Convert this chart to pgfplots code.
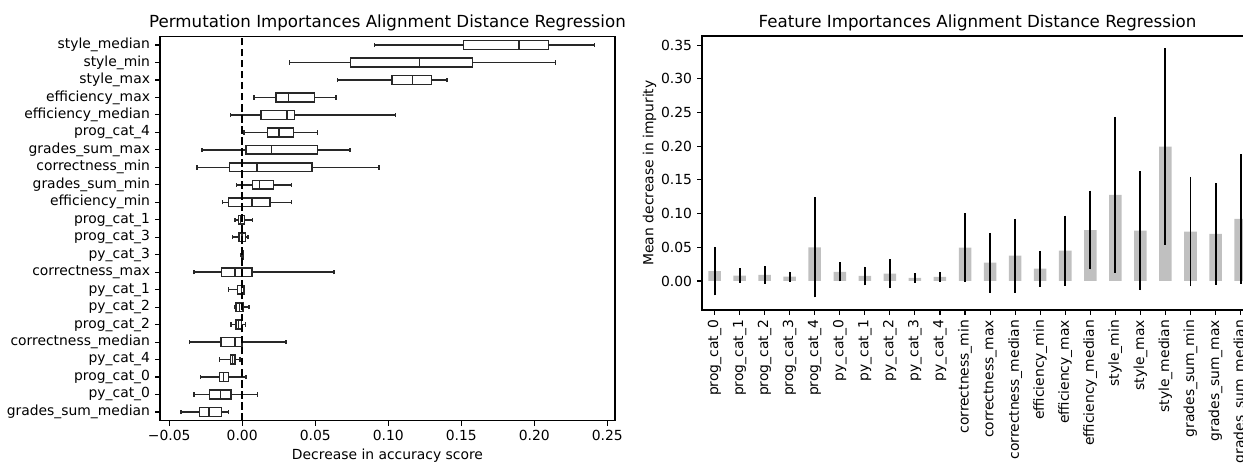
\documentclass[border=0pt]{standalone}
\usepackage{pgfplots}
\usepackage{pgfplotstable}
\pgfplotsset{compat=1.18}
\usepgfplotslibrary{statistics}
\usepackage{fontspec}
\setmainfont{DejaVu Sans}
\definecolor{barc}{RGB}{192,192,192}
\definecolor{boxc}{RGB}{40,40,40}

\pgfplotstableread{
idx val err
0 0.0145 0.0360
1 0.0080 0.0110
2 0.0089 0.0133
3 0.0064 0.0074
4 0.0500 0.0744
5 0.0134 0.0140
6 0.0074 0.0140
7 0.0108 0.0215
8 0.0044 0.0072
9 0.0059 0.0074
10 0.0493 0.0510
11 0.0271 0.0444
12 0.0375 0.0547
13 0.0182 0.0266
14 0.0450 0.0518
15 0.0755 0.0584
16 0.1278 0.1156
17 0.0745 0.0880
18 0.1993 0.1457
19 0.0732 0.0814
20 0.0700 0.0754
21 0.0922 0.0960
}\featdata

\pgfplotsset{
  mplaxis/.style={
    scale only axis,
    axis line style={line width=0.8pt, black},
    every tick/.style={black, line width=0.8pt},
    tick align=outside,
    major tick length=3.5pt,
    xtick pos=bottom, ytick pos=left,
    minor tick num=0,
    tick label style={font=\fontsize{10}{12}\selectfont, inner sep=0pt},
    label style={font=\fontsize{10}{12}\selectfont},
    every axis title/.style={font=\fontsize{12}{14}\selectfont, at={(0.5,1)}, anchor=base, yshift=6pt, inner sep=0pt},
    clip=false,
  },
  mplbox/.style={boxc, line width=1.1pt, solid, mark=none,
    boxplot/box extend=0.5, boxplot/whisker extend=0.25},
}

\begin{document}
\begin{tikzpicture}
\useasboundingbox (0,0) rectangle (894.96pt,334.08pt);
\clip (0,0) rectangle (894.96pt,334.08pt);

% ---------------- left: permutation importances ----------------
\begin{axis}[mplaxis,
  at={(115.2pt,31.18pt)}, anchor=south west,
  width=327.6pt, height=276.77pt,
  xmin=-0.0563, xmax=0.2553, ymin=0.5, ymax=22.5,
  xtick={-0.05,0,0.05,0.1,0.15,0.2,0.25},
  xticklabels={−0.05,0.00,0.05,0.10,0.15,0.20,0.25},
  xticklabel shift=3.5pt, yticklabel shift=3.5pt,
  ytick={1,2,3,4,5,6,7,8,9,10,11,12,13,14,15,16,17,18,19,20,21,22},
  yticklabels={grades\_sum\_median,py\_cat\_0,prog\_cat\_0,py\_cat\_4,correctness\_median,prog\_cat\_2,py\_cat\_2,py\_cat\_1,correctness\_max,py\_cat\_3,prog\_cat\_3,prog\_cat\_1,efficiency\_min,grades\_sum\_min,correctness\_min,grades\_sum\_max,prog\_cat\_4,efficiency\_median,efficiency\_max,style\_max,style\_min,style\_median},
  xlabel={Decrease in accuracy score},
  xlabel style={yshift=-2pt},
  title={Permutation Importances Alignment Distance Regression},
]
\addplot[mplbox, boxplot prepared={draw position=22, lower whisker=0.0907, lower quartile=0.1515, median=0.1897, upper quartile=0.2098, upper whisker=0.2411}] coordinates {};
\addplot[mplbox, boxplot prepared={draw position=21, lower whisker=0.0324, lower quartile=0.0741, median=0.1213, upper quartile=0.1578, upper whisker=0.2147}] coordinates {};
\addplot[mplbox, boxplot prepared={draw position=20, lower whisker=0.0651, lower quartile=0.1025, median=0.1166, upper quartile=0.1297, upper whisker=0.1401}] coordinates {};
\addplot[mplbox, boxplot prepared={draw position=19, lower whisker=0.0079, lower quartile=0.0232, median=0.0316, upper quartile=0.0496, upper whisker=0.0643}] coordinates {};
\addplot[mplbox, boxplot prepared={draw position=18, lower whisker=-0.0079, lower quartile=0.0128, median=0.0305, upper quartile=0.0357, upper whisker=0.1049}] coordinates {};
\addplot[mplbox, boxplot prepared={draw position=17, lower whisker=0.0011, lower quartile=0.0172, median=0.0251, upper quartile=0.0351, upper whisker=0.0515}] coordinates {};
\addplot[mplbox, boxplot prepared={draw position=16, lower whisker=-0.0275, lower quartile=0.0027, median=0.0199, upper quartile=0.0515, upper whisker=0.0738}] coordinates {};
\addplot[mplbox, boxplot prepared={draw position=15, lower whisker=-0.0308, lower quartile=-0.0087, median=0.0101, upper quartile=0.0477, upper whisker=0.0935}] coordinates {};
\addplot[mplbox, boxplot prepared={draw position=14, lower whisker=-0.0038, lower quartile=0.0071, median=0.0117, upper quartile=0.0213, upper whisker=0.0338}] coordinates {};
\addplot[mplbox, boxplot prepared={draw position=13, lower whisker=-0.0134, lower quartile=-0.0095, median=0.0068, upper quartile=0.0191, upper whisker=0.0338}] coordinates {};
\addplot[mplbox, boxplot prepared={draw position=12, lower whisker=-0.0049, lower quartile=-0.0027, median=-0.0011, upper quartile=0.0016, upper whisker=0.0071}] coordinates {};
\addplot[mplbox, boxplot prepared={draw position=11, lower whisker=-0.0065, lower quartile=-0.0022, median=0.0, upper quartile=0.0022, upper whisker=0.0041}] coordinates {};
\addplot[mplbox, boxplot prepared={draw position=10, lower whisker=-0.0010, lower quartile=-0.0005, median=0.0, upper quartile=0.0005, upper whisker=0.0010}] coordinates {};
\addplot[mplbox, boxplot prepared={draw position=9, lower whisker=-0.0330, lower quartile=-0.0142, median=-0.0049, upper quartile=0.0068, upper whisker=0.0629}] coordinates {};
\addplot[mplbox, boxplot prepared={draw position=8, lower whisker=-0.0093, lower quartile=-0.0033, median=-0.0005, upper quartile=0.0011, upper whisker=0.0016}] coordinates {};
\addplot[mplbox, boxplot prepared={draw position=7, lower whisker=-0.0049, lower quartile=-0.0041, median=-0.0019, upper quartile=0.0005, upper whisker=0.0046}] coordinates {};
\addplot[mplbox, boxplot prepared={draw position=6, lower whisker=-0.0076, lower quartile=-0.0044, median=-0.0025, upper quartile=-0.0005, upper whisker=0.0022}] coordinates {};
\addplot[mplbox, boxplot prepared={draw position=5, lower whisker=-0.0360, lower quartile=-0.0145, median=-0.0050, upper quartile=0.0, upper whisker=0.0300}] coordinates {};
\addplot[mplbox, boxplot prepared={draw position=4, lower whisker=-0.0155, lower quartile=-0.0080, median=-0.0065, upper quartile=-0.0050, upper whisker=-0.0015}] coordinates {};
\addplot[mplbox, boxplot prepared={draw position=3, lower whisker=-0.0286, lower quartile=-0.0155, median=-0.0128, upper quartile=-0.0093, upper whisker=0.0027}] coordinates {};
\addplot[mplbox, boxplot prepared={draw position=2, lower whisker=-0.0330, lower quartile=-0.0223, median=-0.0150, upper quartile=-0.0076, upper whisker=0.0104}] coordinates {};
\addplot[mplbox, boxplot prepared={draw position=1, lower whisker=-0.0420, lower quartile=-0.0292, median=-0.0229, upper quartile=-0.0142, upper whisker=-0.0093}] coordinates {};
\addplot[black, line width=1.5pt, dash pattern=on 5.55pt off 2.4pt, mark=none] coordinates {(0,0.5) (0,22.5)};
\end{axis}

% ---------------- right: feature importances ----------------
\begin{axis}[mplaxis,
  at={(505.44pt,110.88pt)}, anchor=south west,
  width=396.8pt, height=197.28pt,
  xmin=-0.5, xmax=21.5, ymin=-0.0431, ymax=0.3635,
  xtick={0,1,2,3,4,5,6,7,8,9,10,11,12,13,14,15,16,17,18,19,20,21},
  xticklabels={prog\_cat\_0,prog\_cat\_1,prog\_cat\_2,prog\_cat\_3,prog\_cat\_4,py\_cat\_0,py\_cat\_1,py\_cat\_2,py\_cat\_3,py\_cat\_4,correctness\_min,correctness\_max,correctness\_median,efficiency\_min,efficiency\_max,efficiency\_median,style\_min,style\_max,style\_median,grades\_sum\_min,grades\_sum\_max,grades\_sum\_median},
  xticklabel style={rotate=90, anchor=east},
  xticklabel shift=3.5pt, yticklabel shift=3.5pt,
  ytick={0,0.05,0.1,0.15,0.2,0.25,0.3,0.35},
  yticklabels={0.00,0.05,0.10,0.15,0.20,0.25,0.30,0.35},
  ylabel={Mean decrease in impurity},
  title={Feature Importances Alignment Distance Regression},
]
\addplot[ybar, bar width=0.5, fill=barc, draw=none,
  error bars/.cd, y dir=both, y explicit, error mark=none,
  error bar style={line width=1.4pt, black, solid}]
  table[x=idx, y=val, y error=err] {\featdata};
\end{axis}
\end{tikzpicture}
\end{document}
